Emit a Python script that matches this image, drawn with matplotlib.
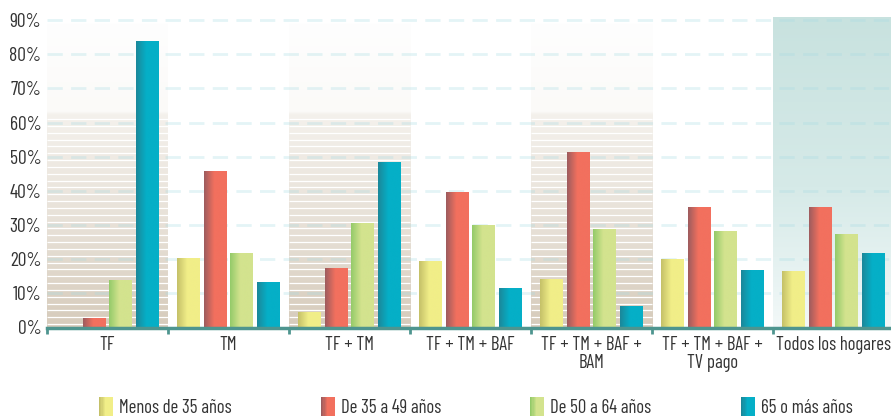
import matplotlib
matplotlib.use('Agg')
import matplotlib.pyplot as plt
import numpy as np
from matplotlib import font_manager
from matplotlib.colors import LinearSegmentedColormap
from matplotlib.legend_handler import HandlerBase
from matplotlib.patches import Rectangle

# data
categories = ['TF', 'TM', 'TF + TM', 'TF + TM + BAF', 'TF + TM + BAF +\nBAM',
              'TF + TM + BAF +\nTV pago', 'Todos los hogares']
series = ['Menos de 35 años', 'De 35 a 49 años', 'De 50 a 64 años', '65 o más años']
menos_35 = [0.0, 20.0, 4.2, 19.1, 13.9, 19.7, 16.2]
de_35_49 = [2.4, 45.5, 17.1, 39.3, 51.1, 34.9, 34.9]
de_50_64 = [13.6, 21.5, 30.2, 29.7, 28.5, 27.9, 27.0]
mas_65 = [83.5, 13.0, 48.1, 11.2, 5.9, 16.5, 21.5]
y_ticks = [0, 10, 20, 30, 40, 50, 60, 70, 80, 90]

values = [menos_35, de_35_49, de_50_64, mas_65]
gradients = [['#c4c068', '#f1ee88', '#f1ee88'],
             ['#9c5c5e', '#f2705e', '#f2705e'],
             ['#93ca69', '#d3e38e', '#d3e38e'],
             ['#1c8799', '#05afc7', '#05afc7']]
cmaps = [LinearSegmentedColormap.from_list('c%d' % i, list(zip([0, 0.45, 1], g)))
         for i, g in enumerate(gradients)]

# pick a condensed family if one is around (name, font size)
names = {f.name for f in font_manager.fontManager.ttflist}
family, fs = 'DejaVu Sans', 9.5
for cand, size in [('Barlow Condensed', 13.5), ('Fira Sans Extra Condensed', 13),
                   ('Sofia Sans Extra Condensed', 14), ('Roboto Condensed', 11.2),
                   ('Archivo Narrow', 11.2)]:
    if cand in names:
        family, fs = cand, size
        break
plt.rcParams['font.family'] = [family, 'DejaVu Sans']
text_color = '#333333'
axis_color = '#4e958f'

fig = plt.figure(figsize=(8.91, 4.18), dpi=100)
ax = fig.add_axes([47 / 891, 90.5 / 418, 847 / 891, 310.8 / 418])

x = np.arange(len(categories))
ramp = np.linspace(0, 1, 256)

# striped beige backgrounds behind groups 1, 3, 5
beige = LinearSegmentedColormap.from_list('beige', list(zip(
    [0, 0.3, 0.7, 0.71, 1], ['#d6cbbb', '#e6dfd5', '#f4f1ec', '#fbfaf8', '#fefefe'])))
for g in [0, 2, 4]:
    ax.imshow(ramp[::-1].reshape(-1, 1), cmap=beige, aspect='auto',
              extent=[g - 0.5, g + 0.5, 0, 89], zorder=0)
    ax.hlines(np.arange(1, 63, 2.0), g - 0.5, g + 0.5, color='white', lw=0.9, zorder=0.5)

# teal background for the total
teal_bg = LinearSegmentedColormap.from_list('tealbg', list(zip([0, 0.45, 1],
                                            ['#f2f8f8', '#d6eae8', '#c8e2df'])))
ax.imshow(ramp[::-1].reshape(-1, 1), cmap=teal_bg, aspect='auto',
          extent=[5.5, 6.5, 0, 91], zorder=0)

# gridlines
for t in y_ticks[1:]:
    ax.axhline(t, color='#a6dbe3', alpha=0.3, lw=2, ls=(0, (5.5, 3)), zorder=1)

# bars with horizontal gradient
w = 0.19
step = 0.223
for i, vals in enumerate(values):
    bars = ax.bar(x + (i - 1.5) * step, vals, width=w, color='none', zorder=2)
    for r in bars:
        if r.get_height() <= 0:
            continue
        x0, y0 = r.get_x(), r.get_y()
        ax.imshow(ramp.reshape(1, -1), cmap=cmaps[i], aspect='auto',
                  extent=[x0, x0 + r.get_width(), y0, y0 + r.get_height()], zorder=2)
ax.set_xlim(-0.5, 6.5)
ax.set_ylim(0, 91)

# axes styling
for s in ['left', 'right', 'top']:
    ax.spines[s].set_visible(False)
ax.spines['bottom'].set_color(axis_color)
ax.spines['bottom'].set_linewidth(2.5)
ax.spines['bottom'].set_zorder(3)
ax.set_xticks(x)
ax.set_xticklabels(categories, fontsize=fs, color=text_color, linespacing=1.0)
ax.set_xticks(np.arange(-0.5, 7, 1), minor=True)
ax.tick_params(axis='x', which='major', length=0, pad=6)
ax.tick_params(axis='x', which='minor', length=4, width=2, color=axis_color, direction='out')
ax.set_yticks(y_ticks)
ax.set_yticklabels(['%d%%' % t for t in y_ticks], fontsize=fs + 0.5, color=text_color)
ax.tick_params(axis='y', length=0, pad=4)


class GradientHandler(HandlerBase):
    def __init__(self, cmap):
        super().__init__()
        self.cmap = cmap

    def create_artists(self, legend, orig_handle, xdescent, ydescent, width, height, fontsize, trans):
        n = 12
        out = []
        for k in range(n):
            out.append(Rectangle((-xdescent + width * k / n, -ydescent - 2), width / n + 0.3, height + 4,
                                 facecolor=self.cmap(k / (n - 1)), edgecolor='none', transform=trans))
        return out


legend_x = [99 / 891, 321 / 891, 530 / 891, 741 / 891]
for i, label in enumerate(series):
    h = Rectangle((0, 0), 1, 1)
    fig.legend([h], [label], handler_map={h: GradientHandler(cmaps[i])},
               loc='center left', bbox_to_anchor=(legend_x[i], 10 / 418),
               frameon=False, fontsize=fs, handlelength=0.75, handletextpad=0.3,
               borderaxespad=0, borderpad=0, labelcolor=text_color)

fig.savefig('out.png', dpi=100)
